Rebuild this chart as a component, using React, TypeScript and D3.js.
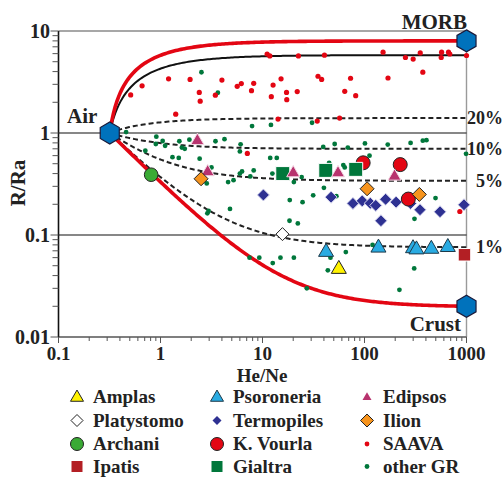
import React, { useEffect, useRef } from 'react';
import * as d3 from 'd3';

// end members [He/Ne, R/Ra]
const air = [0.318, 1];
const morb = [1000, 8];
const crust = [1000, 0.02];
const mantleEnd = 5.8; // black solid curve
const mixLabels = ['20%', '10%', '5%', '1%'];
const mixEnds = [1.4, 0.7, 0.34, 0.076];

const xTickLabels = ['0.1', '1', '10', '100', '1000'];
const yTickLabels = ['0.01', '0.1', '1', '10'];

const amplas = [[56, 0.047]];
const platystomo = [[15.7, 0.102]];
const archani = [[0.81, 0.39]];
const ipatis = [[955, 0.064]];
const psoroneria = [[42, 0.069], [137, 0.076], [299, 0.075], [323, 0.073], [452, 0.074], [656, 0.077]];
const termopiles = [
  [10.2, 0.247], [47, 0.235], [77, 0.204], [95, 0.216], [114, 0.205], [129, 0.195], [161, 0.224],
  [204, 0.21], [283, 0.204], [350, 0.177], [550, 0.169], [145, 0.138], [945, 0.198],
];
const kVourla = [[97, 0.51], [224, 0.49], [269, 0.225]];
const gialtra = [[15.8, 0.4], [41.7, 0.43], [82, 0.44]];
const edipsos = [[2.3, 0.85], [2.9, 0.42], [20, 0.41], [55, 0.41], [197, 0.38]];
const ilion = [[2.5, 0.356], [106, 0.284], [345, 0.25]];
const saava = [
  [0.51, 2.36], [0.66, 2.9], [1.2, 3.4], [1.95, 3.35], [2.4, 2.5], [2.45, 2.05], [1.41, 1.53],
  [4.0, 3.3], [3.45, 2.35], [5.65, 2.87], [6.2, 3.05], [7.8, 2.6], [8.2, 3.07], [11.1, 5.95],
  [11.8, 5.7], [12.7, 2.95], [15.2, 3.4], [12.2, 2.27], [17.2, 2.5], [17.3, 2.12], [21.9, 2.55],
  [22.5, 5.7], [35, 3.6], [38, 3.35], [40.5, 5.8], [14.2, 1.37], [34.4, 1.31], [152, 6.2],
  [252, 5.5], [300, 5.3], [352, 6.1], [570, 6.2], [565, 5.5], [666, 6.2], [686, 5.95],
  [1000, 5.75], [73, 3.44], [64, 2.56], [82, 2.32], [170, 3.46], [373, 3.95], [57, 1.4],
  [7.1, 0.63], [860, 0.17],
];
const otherGR = [
  [2.52, 3.94], [3.65, 2.48], [0.46, 1.02], [0.91, 0.92], [0.9, 0.78], [1.05, 0.835], [1.11, 0.75],
  [0.71, 0.67], [1.31, 0.58], [1.51, 0.57], [1.53, 0.83], [1.62, 0.72], [1.73, 0.7], [1.92, 0.86],
  [2.42, 0.56], [3.46, 0.83], [4.24, 0.87], [6.1, 0.775], [6.0, 0.66], [6.3, 0.42], [6.0, 0.4],
  [4.6, 0.33], [5.2, 0.345], [2.84, 0.32], [3.16, 0.46], [8.2, 0.43], [7.6, 0.375], [11.9, 0.57],
  [13.8, 0.57], [12.5, 0.4], [24.2, 0.37], [20.3, 0.33], [40, 0.29], [31.4, 0.245], [18.5, 0.22],
  [24.7, 0.21], [2.88, 0.163], [2.96, 0.172], [4.8, 0.18], [18.4, 0.138], [22.2, 0.13], [7.9, 1.17],
  [12.1, 1.2], [30.6, 1.26], [39.4, 0.73], [51, 0.78], [68.6, 0.72], [101, 0.79], [169, 0.77],
  [283, 0.8], [373, 0.84], [405, 0.85], [990, 0.625], [112, 0.6], [62, 0.485], [64, 0.46],
  [45, 0.51], [497, 0.23], [309, 0.144], [53, 0.24], [7.46, 0.06], [9.3, 0.06], [12.6, 0.053],
  [15, 0.06], [20.3, 0.06], [27.2, 0.03], [43.7, 0.045], [46.4, 0.06], [65.6, 0.068], [120, 0.08],
  [307, 0.047], [220, 0.029],
];

const shapePath = (shape: string, s: number) => {
  if (shape === 'tri') {
    const h = s * Math.sqrt(3) / 2;
    return `M0,${-h * 0.62}L${s / 2},${h * 0.38}L${-s / 2},${h * 0.38}Z`;
  }
  if (shape === 'dia') return `M0,${-s}L${s},0L0,${s}L${-s},0Z`;
  if (shape === 'sq') return `M${-s / 2},${-s / 2}h${s}v${s}h${-s}Z`;
  if (shape === 'hex') {
    const pts = d3.range(6).map(i => {
      const a = (Math.PI / 3) * i - Math.PI / 2;
      return [s * Math.cos(a), s * Math.sin(a)];
    });
    return 'M' + pts.map(p => p.join(',')).join('L') + 'Z';
  }
  return d3.symbol(d3.symbolCircle, Math.PI * s * s)() as string;
};

// drawing order in the plot; col/row place the legend entry
const groups = [
  { name: 'other GR', data: otherGR, shape: 'dot', fill: '#00773b', stroke: 'none', size: 2.4, leg: 2.4, col: 2, row: 3 },
  { name: 'SAAVA', data: saava, shape: 'dot', fill: '#e30613', stroke: 'none', size: 2.6, leg: 2.4, col: 2, row: 2 },
  { name: 'Archani', data: archani, shape: 'dot', fill: '#3aaa35', stroke: '#222', size: 6.8, leg: 6.5, col: 0, row: 2 },
  { name: 'Termopiles', data: termopiles, shape: 'dia', fill: '#2e3192', stroke: '#d8d8f0', size: 6, leg: 4.5, col: 1, row: 1 },
  { name: 'K. Vourla', data: kVourla, shape: 'dot', fill: '#e30613', stroke: '#222', size: 7, leg: 6.5, col: 1, row: 2 },
  { name: 'Gialtra', data: gialtra, shape: 'sq', fill: '#00773b', stroke: '#fff', size: 14, leg: 11, col: 1, row: 3 },
  { name: 'Edipsos', data: edipsos, shape: 'tri', fill: '#b8336e', stroke: '#f4d8e4', size: 13, leg: 9, col: 2, row: 0 },
  { name: 'Ilion', data: ilion, shape: 'dia', fill: '#f7941d', stroke: '#222', size: 7, leg: 6.5, col: 2, row: 1 },
  { name: 'Psoroneria', data: psoroneria, shape: 'tri', fill: '#29abe2', stroke: '#1d3a4a', size: 15, leg: 13, col: 1, row: 0 },
  { name: 'Amplas', data: amplas, shape: 'tri', fill: '#fff200', stroke: '#222', size: 15, leg: 13, col: 0, row: 0 },
  { name: 'Platystomo', data: platystomo, shape: 'dia', fill: '#fff', stroke: '#222', size: 6.5, leg: 6, col: 0, row: 1 },
  { name: 'Ipatis', data: ipatis, shape: 'sq', fill: '#b31f24', stroke: '#fff', size: 12.5, leg: 11, col: 0, row: 3 },
];

const App = () => {
  const ref = useRef<SVGSVGElement>(null);

  useEffect(() => {
    const svg = d3.select(ref.current);
    svg.selectAll('*').remove();
    const font = '"Liberation Serif", "Times New Roman", serif';

    const left = 58.5, right = 466.5, top = 31, bottom = 337;
    const x = d3.scaleLog().domain([0.1, 1000]).range([left, right]);
    const y = d3.scaleLog().domain([0.01, 10]).range([bottom, top]);

    // frame + grid
    svg.append('line').attr('x1', left).attr('x2', right).attr('y1', top).attr('y2', top)
      .attr('stroke', '#8a8a8a').attr('stroke-width', 1.6);
    svg.append('line').attr('x1', right).attr('x2', right).attr('y1', top).attr('y2', bottom)
      .attr('stroke', '#9a9a9a').attr('stroke-width', 1.4);
    [1, 0.1].forEach(v => {
      svg.append('line').attr('x1', left).attr('x2', right).attr('y1', y(v)).attr('y2', y(v))
        .attr('stroke', '#111').attr('stroke-width', 1.2);
    });
    svg.append('line').attr('x1', left).attr('x2', right).attr('y1', bottom).attr('y2', bottom)
      .attr('stroke', '#555').attr('stroke-width', 1.6);
    svg.append('line').attr('x1', left).attr('x2', left).attr('y1', top).attr('y2', bottom)
      .attr('stroke', '#111').attr('stroke-width', 1.6);

    // ticks
    const isMajor = (v: number) => Math.abs(Math.log10(v) - Math.round(Math.log10(v))) < 1e-6;
    y.ticks().forEach(v => {
      const len = isMajor(v) ? 8 : 6;
      svg.append('line').attr('x1', left - len).attr('x2', left).attr('y1', y(v)).attr('y2', y(v))
        .attr('stroke', '#555').attr('stroke-width', 1);
    });
    x.ticks().forEach(v => {
      const len = isMajor(v) ? 6 : 4;
      svg.append('line').attr('x1', x(v)).attr('x2', x(v)).attr('y1', bottom).attr('y2', bottom + len)
        .attr('stroke', '#555').attr('stroke-width', 1);
    });
    yTickLabels.forEach(t => {
      svg.append('text').attr('x', 50).attr('y', y(+t) + 7).attr('text-anchor', 'end')
        .attr('font-family', font).attr('font-weight', 'bold').attr('font-size', 20).attr('fill', '#222').text(t);
    });
    xTickLabels.forEach(t => {
      svg.append('text').attr('x', x(+t)).attr('y', 360).attr('text-anchor', 'middle')
        .attr('font-family', font).attr('font-weight', 'bold').attr('font-size', 19).attr('fill', '#222').text(t);
    });

    // air mixing curves
    const mix = (xe: number, re: number) => d3.range(0, 201).map(i => {
      const hx = air[0] * Math.pow(xe / air[0], i / 200);
      const f = (hx - air[0]) / (xe - air[0]);
      return [hx, (f * xe * re + (1 - f) * air[0] * air[1]) / hx];
    });
    const line = d3.line<number[]>().x(d => x(d[0])).y(d => y(d[1])).curve(d3.curveLinear);

    mixEnds.forEach(r => {
      svg.append('path').attr('d', line(mix(1000, r))).attr('fill', 'none')
        .attr('stroke', '#222').attr('stroke-width', 2).attr('stroke-dasharray', '5,3');
    });
    svg.append('path').attr('d', line(mix(1000, mantleEnd))).attr('fill', 'none')
      .attr('stroke', '#111').attr('stroke-width', 2);
    svg.append('path').attr('d', line(mix(morb[0], morb[1]))).attr('fill', 'none')
      .attr('stroke', '#e30613').attr('stroke-width', 3.6);
    svg.append('path').attr('d', line(mix(crust[0], crust[1]))).attr('fill', 'none')
      .attr('stroke', '#e30613').attr('stroke-width', 3.6);

    // data
    groups.forEach(g => {
      svg.append('g').selectAll('path').data(g.data).enter().append('path')
        .attr('transform', d => `translate(${x(d[0])},${y(d[1])})`)
        .attr('d', shapePath(g.shape, g.size))
        .attr('fill', g.fill).attr('stroke', g.stroke).attr('stroke-width', 1);
    });

    // end-member hexagons
    [air, morb, crust].forEach(d => {
      svg.append('path').attr('transform', `translate(${x(d[0])},${y(d[1])})`)
        .attr('d', shapePath('hex', 11)).attr('fill', '#0072bc')
        .attr('stroke', '#1a1a3a').attr('stroke-width', 1.2);
    });

    const label = (t: string, lx: number, ly: number, anchor: string, size: number) =>
      svg.append('text').attr('x', lx).attr('y', ly).attr('text-anchor', anchor)
        .attr('font-family', font).attr('font-weight', 'bold').attr('font-size', size).attr('fill', '#222').text(t);

    label('MORB', 467, 29, 'end', 21);
    label('Air', 67, 123, 'start', 21);
    label('Crust', 461, 331, 'end', 21);
    mixLabels.forEach((t, i) => label(t, 503, y(mixEnds[i]) + 6, 'end', 18));
    label('He/Ne', 262, 381.5, 'middle', 19);
    svg.append('text').attr('transform', 'translate(25,183) rotate(-90)').attr('text-anchor', 'middle')
      .attr('font-family', font).attr('font-weight', 'bold').attr('font-size', 21).attr('fill', '#222').text('R/Ra');

    // legend
    const colMark = [77, 217, 367];
    const colText = [93, 233, 383];
    const rowY = [397, 420.5, 444, 466.5];
    groups.forEach(g => {
      const cy = rowY[g.row];
      svg.append('path').attr('transform', `translate(${colMark[g.col]},${cy})`)
        .attr('d', shapePath(g.shape, g.leg))
        .attr('fill', g.fill).attr('stroke', g.stroke === '#fff' || g.stroke.startsWith('#d') || g.stroke.startsWith('#f') ? 'none' : g.stroke)
        .attr('stroke-width', 1);
      label(g.name, colText[g.col], cy + 6, 'start', 19);
    });
  }, []);

  return (
    <svg ref={ref} width={504} height={477}
      style={{ position: 'absolute', left: 0, top: 0, background: '#fff' }} />
  );
};

export default App;
